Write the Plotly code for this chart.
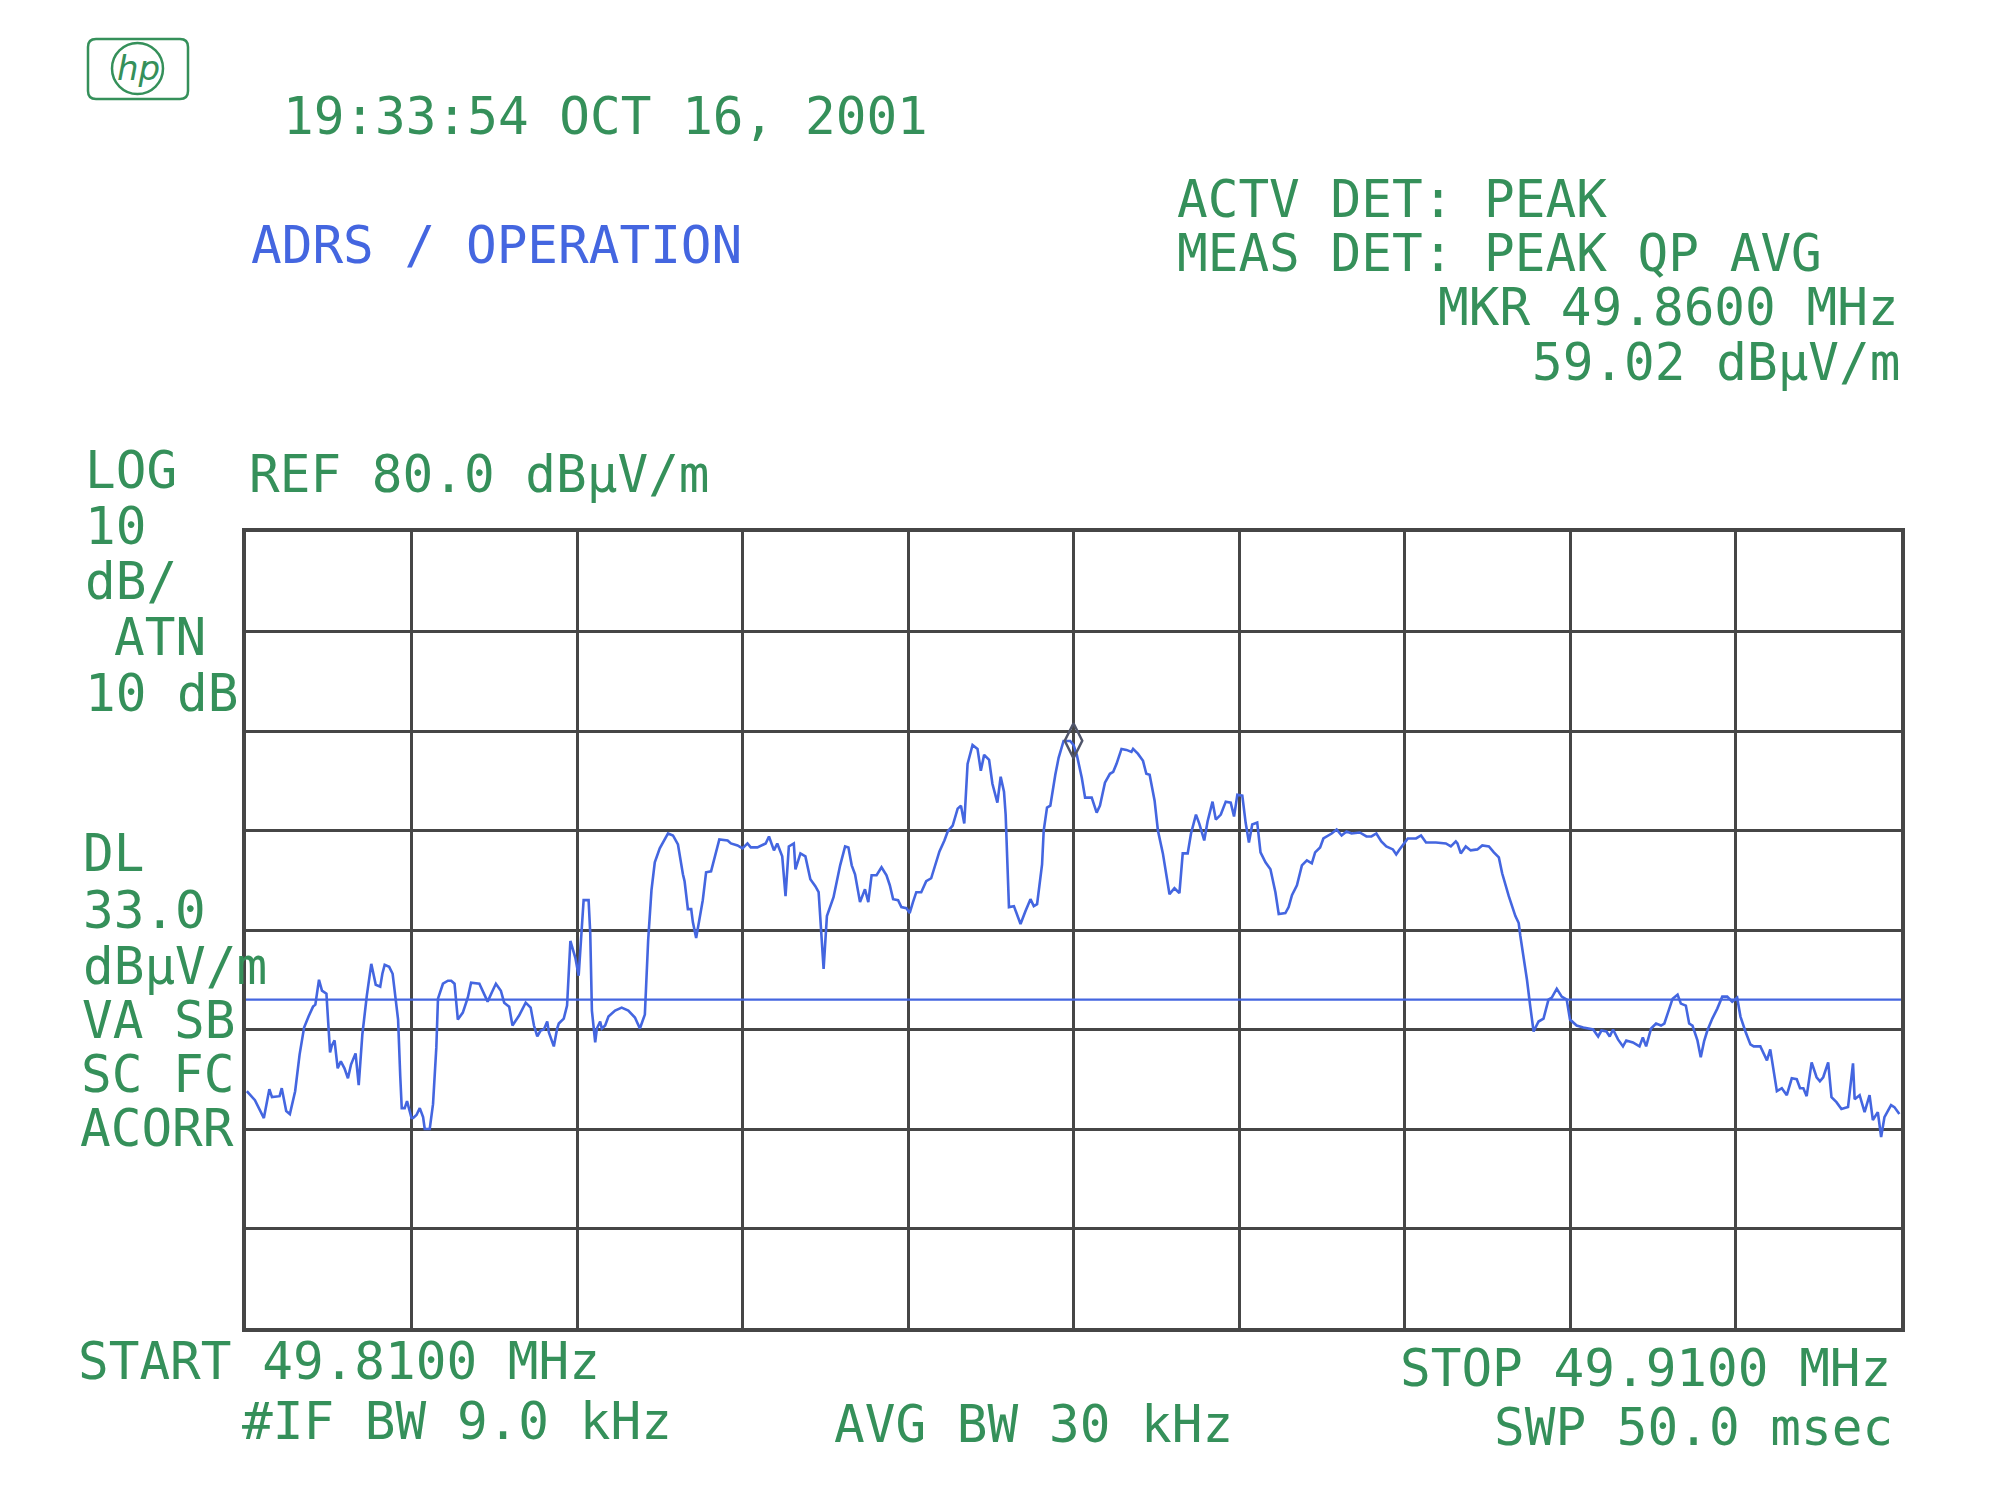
import plotly.graph_objects as go

# ---------------- data ----------------
START_MHZ = 49.81
STOP_MHZ = 49.91
REF_LEVEL = 80.0
DB_PER_DIV = 10.0
DISPLAY_LINE = 33.0
MARKER_MHZ = 49.86
MARKER_DB = 59.02

offset_khz = [
    0.05, 0.54, 1.08, 1.41, 1.57, 2.03, 2.16, 2.43, 2.65, 2.97, 3.24, 3.51, 3.78, 4.05, 4.19, 4.41, 4.59, 4.86,
    5.08, 5.19, 5.35, 5.54, 5.73, 5.95, 6.16, 6.35, 6.62, 6.81, 7.03, 7.30, 7.57, 7.70, 7.84, 8.11, 8.24, 8.38,
    8.65, 8.86, 9.05, 9.19, 9.32, 9.41, 9.59, 9.73, 10.0, 10.1, 10.3, 10.5, 10.7, 10.8, 11.1, 11.3, 11.5, 11.6,
    11.9, 12.2, 12.4, 12.6, 12.8, 13.1, 13.4, 13.6, 14.1, 14.3, 14.6, 14.9, 15.1, 15.4, 15.6, 15.9, 16.1, 16.5,
    16.9, 17.2, 17.4, 17.6, 17.8, 18.0, 18.2, 18.3, 18.5, 18.6, 18.8, 18.9, 19.2, 19.4, 19.6, 19.9, 20.1, 20.3,
    20.4, 20.7, 20.8, 20.9, 21.1, 21.2, 21.4, 21.5, 21.7, 21.9, 22.3, 22.7, 23.1, 23.5, 23.8, 24.1, 24.3, 24.5,
    24.7, 25.0, 25.3, 25.5, 25.8, 26.1, 26.4, 26.5, 26.7, 26.9, 27.0, 27.2,
    27.6, 27.8, 28.1, 28.4, 28.6, 29.1, 29.3, 29.7, 30.0, 30.3, 30.5, 30.9, 31.4, 31.6, 31.9, 32.1, 32.4, 32.6,
    32.8, 33.1, 33.2, 33.5, 33.8, 34.1, 34.4, 34.6, 34.9, 35.1, 35.5, 35.9, 36.2, 36.4, 36.6, 36.8, 37.1, 37.4,
    37.6, 37.8, 38.1, 38.4, 38.7, 38.9, 39.1, 39.4, 39.6, 39.9, 40.1, 40.3, 40.5, 40.8, 41.1, 41.4, 41.6, 41.9,
    42.2, 42.4, 42.7, 43.0, 43.2, 43.4, 43.6, 43.9, 44.2, 44.4, 44.6, 44.9, 45.1, 45.4, 45.6, 45.8, 45.9, 46.1,
    46.4, 46.6, 46.8, 47.1, 47.4, 47.6, 47.8, 48.1, 48.2, 48.4, 48.6, 48.9, 49.1, 49.4, 49.8, 50.0, 50.2, 50.5,
    50.7, 51.1, 51.4, 51.6, 51.9, 52.2, 52.4, 52.6, 52.9, 53.2, 53.5, 53.6, 53.9, 54.2, 54.4, 54.6, 54.9, 55.1,
    55.4, 55.8, 56.1, 56.4, 56.6, 56.9, 57.1, 57.4, 57.6, 57.9, 58.1, 58.4, 58.6, 58.9, 59.2, 59.5, 59.7, 59.9,
    60.2, 60.4, 60.6, 60.8, 61.1, 61.3, 61.6, 61.9, 62.2, 62.4, 62.8, 63.0, 63.2, 63.5, 63.8, 64.1, 64.4, 64.6,
    64.9, 65.1, 65.4, 65.6, 65.9, 66.2, 66.5, 66.8, 67.3, 67.7, 68.0, 68.3, 68.6, 68.9, 69.3, 69.5,
    69.7, 70.0, 70.2, 70.7, 71.0, 71.3, 71.9, 72.5, 72.8, 73.1, 73.2, 73.4, 73.7, 74.0, 74.4, 74.7, 75.1, 75.4,
    75.7, 75.9, 76.2, 76.3, 76.7, 76.9, 77.0, 77.2, 77.4, 77.6, 77.8, 78.1, 78.4, 78.7, 78.9, 79.2, 79.5, 79.8,
    80.0, 80.4, 80.8, 81.4, 81.7, 81.9, 82.2, 82.4, 82.6, 82.9, 83.2, 83.4, 83.8, 84.2, 84.4, 84.6, 84.9, 85.2,
    85.5, 85.7, 86.0, 86.2, 86.5, 86.7, 87.0, 87.2, 87.4, 87.7, 87.9, 88.1, 88.3, 88.6, 88.9, 89.2, 89.5, 89.8,
    90.1, 90.3, 90.6, 90.9, 91.1, 91.5, 91.7, 91.9, 92.1, 92.3, 92.5, 92.8, 93.1, 93.4, 93.7, 93.9, 94.1, 94.3,
    94.6, 94.9, 95.1, 95.3, 95.6, 95.8, 96.1, 96.4, 96.8, 97.1, 97.2, 97.5, 97.8, 98.1, 98.3, 98.6, 98.8, 99.0,
    99.4, 99.6, 99.9,
]

level_dbuv = [
    23.8, 22.9, 21.1, 24.0, 23.2, 23.3, 24.1, 21.8, 21.5, 23.8, 27.5, 30.2, 31.3, 32.3, 32.5, 35.0, 33.9, 33.6,
    27.7, 28.4, 28.9, 26.1, 26.8, 26.1, 25.1, 26.5, 27.6, 24.4, 29.5, 33.4, 36.6, 35.6, 34.5, 34.3, 35.6, 36.5,
    36.3, 35.6, 33.1, 31.0, 25.3, 22.1, 22.1, 22.8, 21.1, 21.1, 21.4, 22.1, 21.2, 20.0, 20.0, 22.5, 28.2, 33.1,
    34.6, 34.9, 34.9, 34.6, 31.0, 31.7, 33.2, 34.7, 34.6, 33.9, 32.8, 33.9, 34.6, 33.9, 32.7, 32.3, 30.4, 31.4,
    32.7, 32.2, 30.4, 29.3, 29.9, 30.0, 30.8, 29.7, 28.6, 28.3, 30.1, 30.6, 31.1, 32.4, 38.9, 37.2, 35.4, 40.4,
    43.0, 43.0, 39.7, 31.9, 28.7, 30.1, 30.8, 30.1, 30.4, 31.3, 31.9, 32.2, 31.9, 31.2, 30.1, 31.5, 39.0, 44.0,
    46.8, 48.2, 49.1, 49.7, 49.5, 48.6, 45.6, 44.9, 42.1, 42.1, 40.8, 39.2,
    43.0, 45.8, 45.9, 48.0, 49.1, 49.0, 48.7, 48.5, 48.2, 48.7, 48.3, 48.3, 48.7, 49.4, 48.0, 48.7, 47.4, 43.4,
    48.4, 48.7, 46.1, 47.7, 47.4, 45.1, 44.4, 43.8, 36.1, 41.4, 43.3, 46.5, 48.4, 48.3, 46.5, 45.6, 42.8, 44.1,
    42.8, 45.5, 45.5, 46.3, 45.5, 44.5, 43.1, 43.0, 42.3, 42.2, 41.7, 42.8, 43.8, 43.8, 44.9, 45.2, 46.2, 47.9,
    49.0, 49.9, 50.5, 52.2, 52.5, 50.7, 56.7, 58.6, 58.2, 56.0, 57.6, 57.1, 54.7, 52.8, 55.4, 53.9, 51.6, 42.3,
    42.4, 41.4, 40.6, 41.9, 43.1, 42.4, 42.6, 46.6, 50.0, 52.3, 52.5, 55.6, 57.3, 59.0, 59.0, 58.6, 57.6, 55.3,
    53.3, 53.3, 51.8, 52.5, 54.8, 55.7, 55.9, 56.7, 58.2, 58.1, 57.9, 58.2, 57.7, 57.0, 55.7, 55.6, 53.0, 50.0,
    47.7, 43.6, 44.2, 43.7, 47.7, 47.7, 49.7, 51.6, 50.7, 49.0, 50.9, 52.9, 51.1, 51.6, 52.9, 52.8, 51.4, 53.6,
    53.5, 50.8, 48.8, 50.6, 50.8, 47.8, 46.8, 46.1, 43.8, 41.6, 41.7, 42.3, 43.5, 44.5, 46.5, 47.0, 46.7, 47.8,
    48.3, 49.2, 49.5, 49.7, 50.1, 49.5, 49.9, 49.7, 49.8, 49.4, 49.4, 49.7, 48.9, 48.4, 48.1, 47.6,
    48.1, 48.7, 49.2, 49.2, 49.5, 48.8, 48.8, 48.7, 48.4, 48.9, 48.7, 47.7, 48.4, 48.0, 48.1, 48.5, 48.4, 47.8,
    47.3, 45.7, 43.9, 43.4, 41.4, 40.7, 39.4, 37.3, 35.0, 32.3, 29.8, 30.8, 31.1, 33.0, 33.2, 34.1, 33.3, 33.0,
    31.0, 30.4, 30.2, 30.0, 29.3, 29.9, 29.8, 29.3, 30.0, 29.0, 28.3, 28.9, 28.7, 28.3, 29.2, 28.3, 30.1, 30.6,
    30.4, 30.6, 32.1, 33.1, 33.5, 32.6, 32.4, 30.6, 30.4, 28.9, 27.2, 28.8, 29.9, 31.1, 32.1, 33.3, 33.3, 32.8,
    33.2, 31.3, 29.8, 28.5, 28.3, 28.3, 27.6, 26.9, 28.0, 26.0, 23.8, 24.1, 23.4, 25.1, 25.0, 24.1, 24.1, 23.3,
    26.7, 25.2, 24.8, 25.2, 26.7, 23.2, 22.7, 22.0, 22.2, 26.6, 23.0, 23.4, 21.7, 23.4, 20.9, 21.7, 19.2, 21.2,
    22.4, 22.2, 21.5,
]

freq_mhz = [START_MHZ + k / 1000.0 for k in offset_khz]

# ---------------- styling / layout ----------------
BODY = 8  # default page margin around the plotly div
W, H = 2008 - 2 * BODY, 1500 - 2 * BODY
# plot area in page pixels
L, R, T, B = 246, 1901, 532, 1328
GREEN = "#35905a"
BLUE = "#4466e0"
GRID = "#464646"
FONT = "DejaVu Sans Mono"
FS = 51


def px(x):
    return (x - L) / (R - L)


def py(y):
    return (B - y) / (B - T)


fig = go.Figure()

fig.add_trace(go.Scatter(
    x=[START_MHZ, STOP_MHZ], y=[DISPLAY_LINE, DISPLAY_LINE], mode="lines",
    line=dict(color=BLUE, width=2.2), hoverinfo="skip", showlegend=False))

fig.add_trace(go.Scatter(
    x=freq_mhz, y=level_dbuv, mode="lines",
    line=dict(color=BLUE, width=2.6), showlegend=False))

fig.add_trace(go.Scatter(
    x=[MARKER_MHZ], y=[MARKER_DB], mode="markers",
    marker=dict(symbol="diamond-tall-open", size=25, color="#50556a", line=dict(width=2.5)),
    showlegend=False))

axis_common = dict(showticklabels=False, ticks="", showgrid=True, gridcolor=GRID, gridwidth=3,
                   zeroline=False, showline=True, linecolor=GRID, linewidth=4, mirror=True)

fig.update_layout(
    width=W, height=H,
    margin=dict(l=L - BODY, r=(W + BODY) - R, t=T - BODY, b=(H + BODY) - B, pad=0),
    paper_bgcolor="white", plot_bgcolor="white",
    xaxis=dict(range=[START_MHZ, STOP_MHZ], tick0=START_MHZ, dtick=(STOP_MHZ - START_MHZ) / 10, **axis_common),
    yaxis=dict(range=[REF_LEVEL - 8 * DB_PER_DIV, REF_LEVEL], tick0=0, dtick=DB_PER_DIV, **axis_common),
    font=dict(family=FONT, size=FS, color=GREEN),
)

texts = [
    ("19:33:54 OCT 16, 2001", 284, 117, "left", GREEN),
    ("ADRS / OPERATION", 252, 246, "left", BLUE),
    ("ACTV DET: PEAK", 1178, 199, "left", GREEN),
    ("MEAS DET: PEAK QP AVG", 1178, 253, "left", GREEN),
    ("MKR 49.8600 MHz", 1897, 308, "right", GREEN),
    ("59.02 dBµV/m", 1898, 362, "right", GREEN),
    ("LOG", 86, 470, "left", GREEN),
    ("REF 80.0 dBµV/m", 250, 475, "left", GREEN),
    ("10", 86, 527, "left", GREEN),
    ("dB/", 86, 581, "left", GREEN),
    ("ATN", 115, 637, "left", GREEN),
    ("10 dB", 86, 693, "left", GREEN),
    ("DL", 84, 853, "left", GREEN),
    ("33.0", 84, 910, "left", GREEN),
    ("dBµV/m", 84, 966, "left", GREEN),
    ("VA SB", 83, 1020, "left", GREEN),
    ("SC FC", 82, 1074, "left", GREEN),
    ("ACORR", 81, 1128, "left", GREEN),
    ("START 49.8100 MHz", 79, 1361, "left", GREEN),
    ("STOP 49.9100 MHz", 1889, 1368, "right", GREEN),
    ("#IF BW 9.0 kHz", 243, 1421, "left", GREEN),
    ("AVG BW 30 kHz", 835, 1424, "left", GREEN),
    ("SWP 50.0 msec", 1891, 1427, "right", GREEN),
]
for txt, x, y, anchor, col in texts:
    xx = x - 3 if anchor == "left" else x + 4
    fig.add_annotation(text=txt, x=px(xx), y=py(y), xref="paper", yref="paper",
                       xanchor=anchor, yanchor="middle", showarrow=False,
                       font=dict(family=FONT, size=FS, color=col))

# hp logo
x0, x1, y0, y1, rr = 88, 188, 39, 99, 8
path = (f"M {px(x0 + rr)},{py(y0)} L {px(x1 - rr)},{py(y0)} Q {px(x1)},{py(y0)} {px(x1)},{py(y0 + rr)} "
        f"L {px(x1)},{py(y1 - rr)} Q {px(x1)},{py(y1)} {px(x1 - rr)},{py(y1)} "
        f"L {px(x0 + rr)},{py(y1)} Q {px(x0)},{py(y1)} {px(x0)},{py(y1 - rr)} "
        f"L {px(x0)},{py(y0 + rr)} Q {px(x0)},{py(y0)} {px(x0 + rr)},{py(y0)} Z")
fig.add_shape(type="path", path=path, xref="paper", yref="paper", line=dict(color=GREEN, width=2.5))
fig.add_shape(type="circle", xref="paper", yref="paper",
              x0=px(112), x1=px(163), y0=py(94), y1=py(43), line=dict(color=GREEN, width=2.5),
              fillcolor="white")
fig.add_annotation(text="<i>hp</i>", x=px(138), y=py(68), xref="paper", yref="paper",
                   xanchor="center", yanchor="middle", showarrow=False,
                   font=dict(family="DejaVu Sans", size=34, color=GREEN))

fig.write_html("out.html")
